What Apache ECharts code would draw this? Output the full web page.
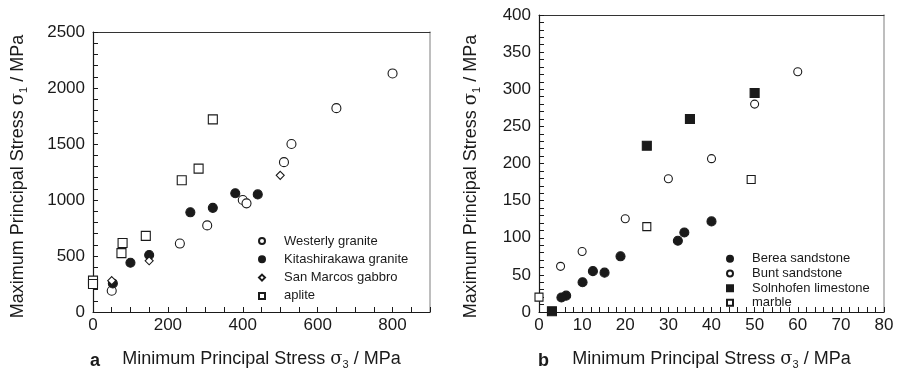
<!DOCTYPE html>
<html>
<head>
<meta charset="utf-8">
<script src="https://cdn.jsdelivr.net/npm/echarts@6/dist/echarts.min.js"></script>
<style>html,body{margin:0;padding:0;background:#fff;}#c{width:899px;height:375px;}</style>
</head>
<body>
<div id="c"></div>
<script>
// ---- Panel a data: [sigma3, sigma1] in MPa ----
const westerlyGranite = [[800,2130],[650,1820],[530,1500],[510,1338],[400,1000],[410,970],[305,773],[232,611],[50,190]];
const kitashirakawaGranite = [[380,1060],[440,1050],[320,930],[260,890],[150,509],[100,440],[53,255]];
const sanMarcosGabbro = [[500,1220],[150,457],[50,280]];
const aplite = [[320,1720],[282,1280],[237,1176],[141,680],[79,616],[76,526],[0,280],[0,250]];
// ---- Panel b data ----
const bereaSandstone = [[40,122],[33.7,107],[32.2,96],[18.9,75],[15.2,53],[12.5,55],[10.1,40],[6.3,22],[5.2,19.5]];
const buntSandstone = [[60,323.5],[50,280],[40,206.5],[30,179.5],[20,125.5],[10,81.5],[5,61.5]];
const solnhofenLimestone = [[50,295],[35,260],[25,224],[3,1]];
const marble = [[49.2,178.5],[25,115],[0,20]];

const legendA = ['Westerly granite','Kitashirakawa granite','San Marcos gabbro','aplite'];
const legendB = ['Berea sandstone','Bunt sandstone','Solnhofen limestone','marble'];

const INK = '#1a1a1a';
const FONT = '"Liberation Sans", Arial, sans-serif';

const chart = echarts.init(document.getElementById('c'), null, {renderer:'canvas'});

const subRich = {
  n:{fontSize:18,color:INK,fontFamily:FONT},
  g:{fontSize:18,color:INK,fontFamily:'"DejaVu Serif", "Liberation Serif", serif'},
  s:{fontSize:11,color:INK,fontFamily:FONT,padding:[10,0,0,0]}
};
function axisTitle(sub, kind){
  return '{n|' + kind + ' Principal Stress }{g|σ}{s|' + sub + '}{n| / MPa}';
}
function labelFmt(step){ return v => (Math.abs(v % step) < 1e-9 ? String(v) : ''); }

function xAx(grid, max, tick, labStep, titleSub){
  return {
    type:'value', gridIndex:grid, min:0, max:max, interval:tick,
    name: axisTitle(titleSub,'Minimum'), nameLocation:'middle', nameGap:37,
    nameTextStyle:{rich:subRich},
    axisLine:{show:true,onZero:false,lineStyle:{color:INK,width:1.2}},
    axisTick:{show:true,inside:true,length:5,lineStyle:{color:INK}},
    axisLabel:{formatter:labelFmt(labStep),color:INK,fontSize:17,fontFamily:FONT,margin:5},
    splitLine:{show:false}
  };
}
function yAx(grid, max, tick, labStep, titleSub, gap, padR){
  return {
    type:'value', gridIndex:grid, min:0, max:max, interval:tick,
    name: axisTitle(titleSub,'Maximum'), nameLocation:'middle', nameGap:gap, nameRotate:90,
    nameTextStyle:{rich:subRich,padding:[0,padR,0,0]},
    axisLine:{show:true,onZero:false,lineStyle:{color:INK,width:1.2}},
    axisTick:{show:true,inside:true,length:5,lineStyle:{color:INK}},
    axisLabel:{formatter:labelFmt(labStep),color:INK,fontSize:17,fontFamily:FONT,margin:8},
    splitLine:{show:false}
  };
}
function frameX(grid,max){
  return {type:'value',gridIndex:grid,position:'top',min:0,max:max,
    axisLine:{show:true,onZero:false,lineStyle:{color:'#333',width:1}},
    axisTick:{show:false},axisLabel:{show:false},splitLine:{show:false}};
}
function frameY(grid,max){
  return {type:'value',gridIndex:grid,position:'right',min:0,max:max,
    axisLine:{show:true,onZero:false,lineStyle:{color:'#a8a8a8',width:1.5}},
    axisTick:{show:false},axisLabel:{show:false},splitLine:{show:false}};
}

function ser(name, data, xi, yi, symbol, filled, size){
  return {
    type:'scatter', name:name, data:data, xAxisIndex:xi, yAxisIndex:yi,
    symbol:symbol, symbolSize:size,
    itemStyle:{color: filled ? INK : '#fff', borderColor:INK, borderWidth:1.1, opacity:1},
    emphasis:{disabled:true}, z:3
  };
}

const legendText = {fontSize:13,color:INK,fontFamily:FONT,padding:[0,0,0,14]};

const option = {
  animation:false,
  backgroundColor:'#fff',
  grid:[
    {left:93, top:32, width:337, height:293, show:false},
    {left:539, top:15, width:345, height:310, show:false}
  ],
  xAxis:[ xAx(0,900,50,200,'3'), xAx(1,80,2,10,'3'), frameX(0,900), frameX(1,80) ],
  yAxis:[ yAx(0,2500,100,500,'1',64,9), yAx(1,400,10,50,'1',57,26), frameY(0,2500), frameY(1,400) ],
  legend:[
    {data:legendA, orient:'vertical', left:253, top:229, padding:5, itemWidth:6, itemHeight:6, itemGap:4.3,
     textStyle:Object.assign({lineHeight:14}, legendText), selectedMode:false},
    {data:legendB, orient:'vertical', left:721, top:247, padding:5, itemWidth:6, itemHeight:6, itemGap:1.2,
     textStyle:Object.assign({lineHeight:13.5}, legendText), selectedMode:false}
  ],
  graphic:[
    {type:'text', left:90, top:352, style:{text:'a', font:'bold 18px '+FONT, fill:INK}},
    {type:'text', left:538, top:352, style:{text:'b', font:'bold 18px '+FONT, fill:INK}}
  ],
  series:[
    ser('Westerly granite', westerlyGranite, 0, 0, 'circle', false, 9),
    ser('Kitashirakawa granite', kitashirakawaGranite, 0, 0, 'circle', true, 9),
    ser('San Marcos gabbro', sanMarcosGabbro, 0, 0, 'diamond', false, 8),
    ser('aplite', aplite, 0, 0, 'rect', false, 9),
    ser('Berea sandstone', bereaSandstone, 1, 1, 'circle', true, 9),
    ser('Bunt sandstone', buntSandstone, 1, 1, 'circle', false, 8),
    ser('Solnhofen limestone', solnhofenLimestone, 1, 1, 'rect', true, 9),
    ser('marble', marble, 1, 1, 'rect', false, 8)
  ]
};
chart.setOption(option);
</script>
</body>
</html>
